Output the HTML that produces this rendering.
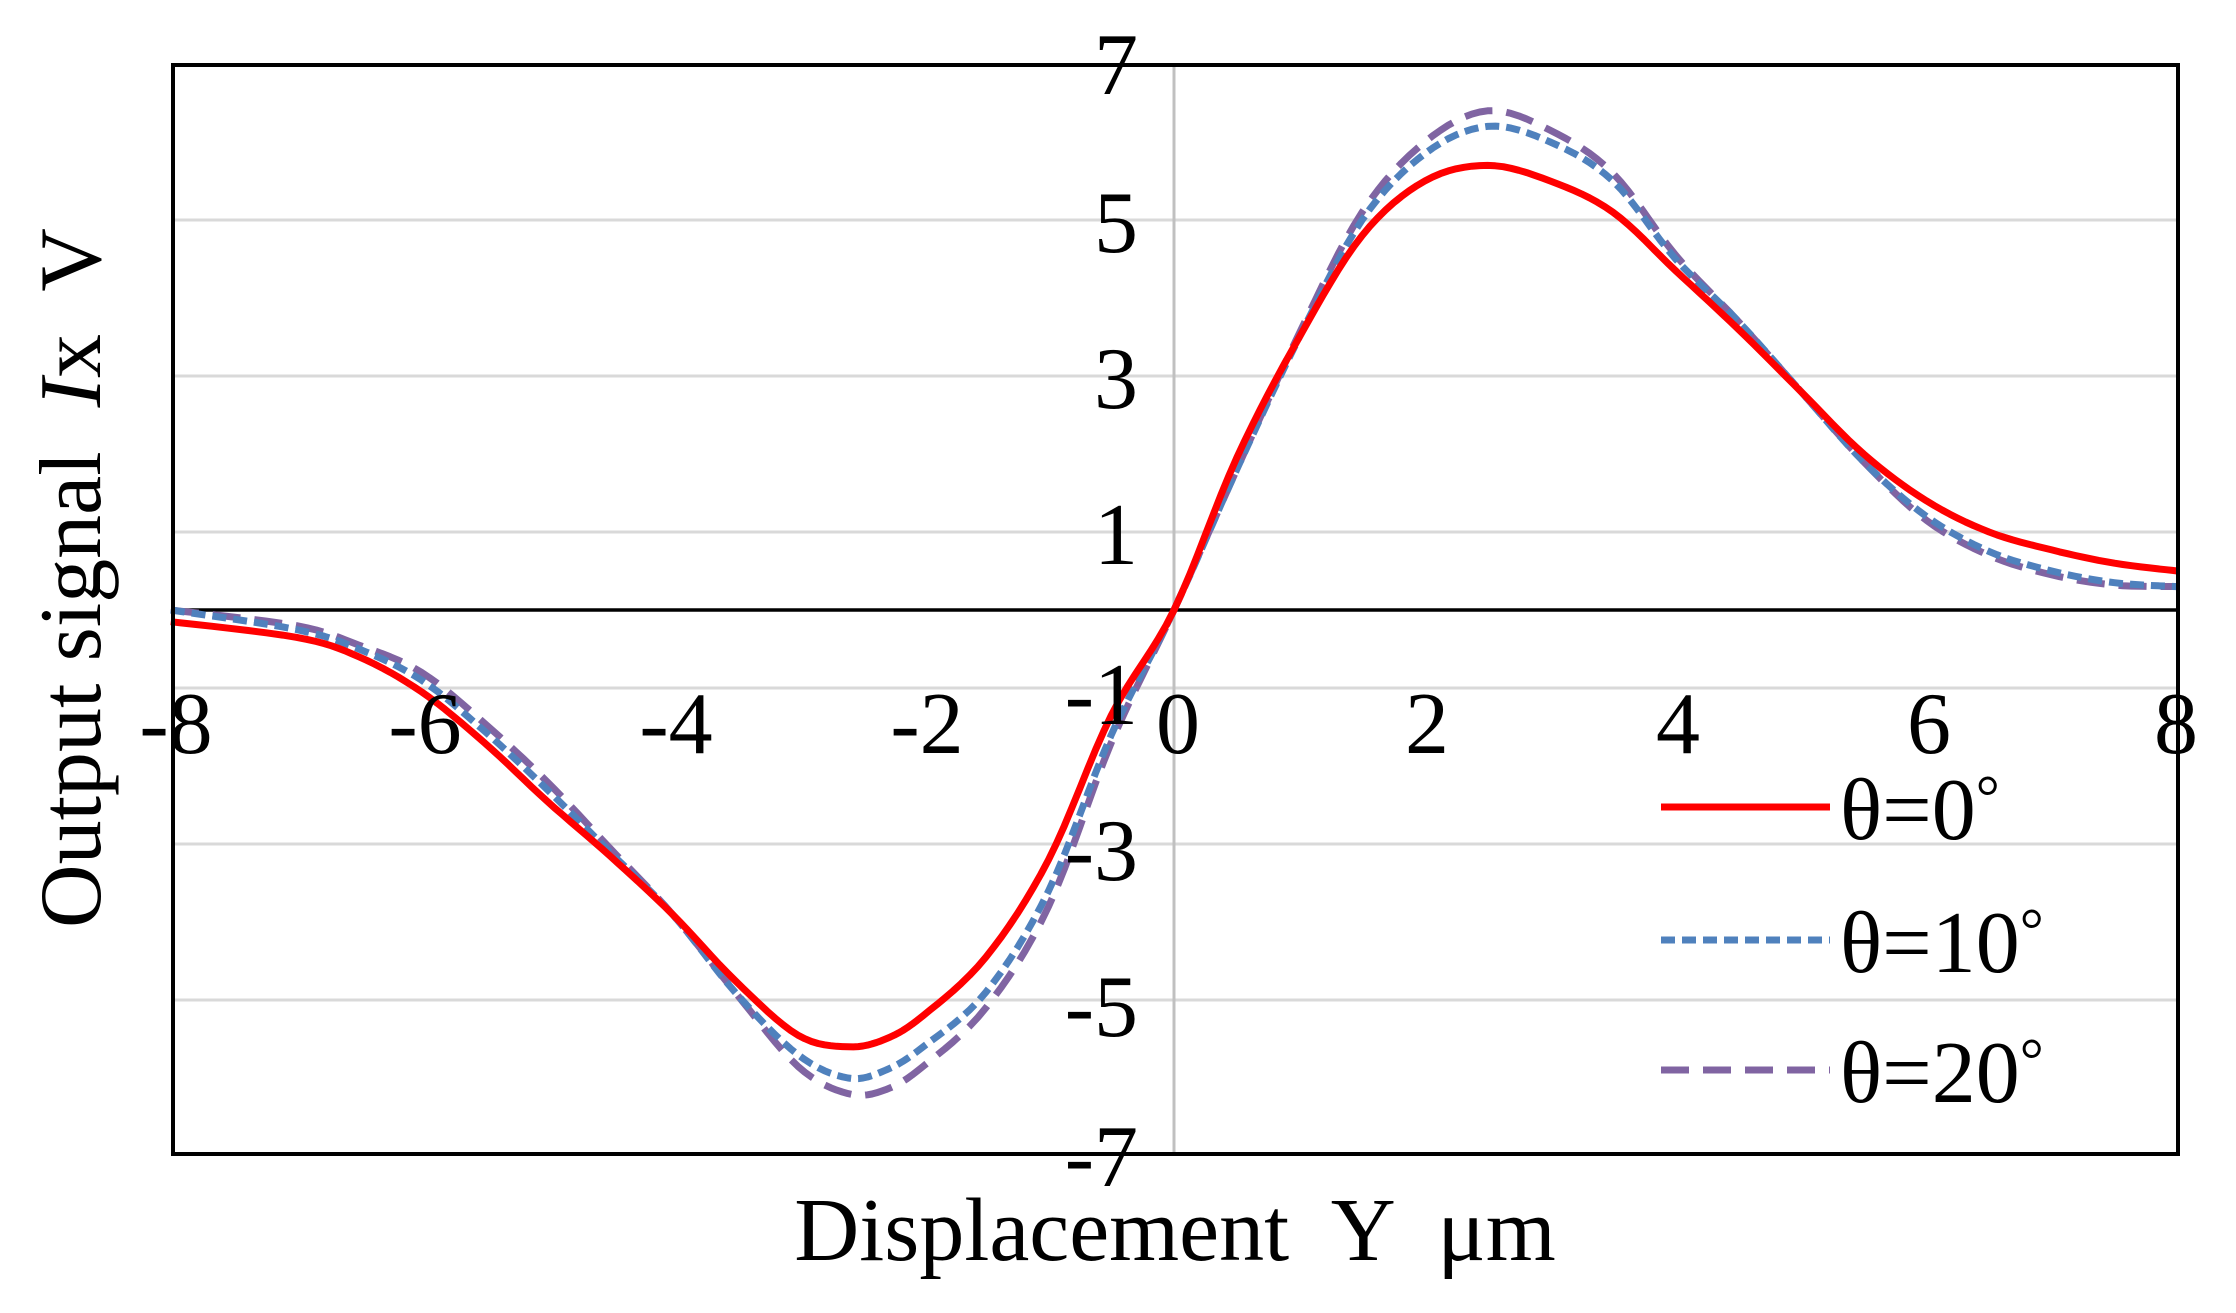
<!DOCTYPE html>
<html><head><meta charset="utf-8"><style>
html,body{margin:0;padding:0;background:#fff}
svg text{font-family:"Liberation Serif",serif;fill:#000}
</style></head><body>
<svg id="s" width="2236" height="1308" viewBox="0 0 2236 1308" xmlns="http://www.w3.org/2000/svg">
<rect width="2236" height="1308" fill="#fff"/>
<g stroke="#d9d9d9" stroke-width="3">
<line x1="172" x2="2179" y1="220" y2="220"/>
<line x1="172" x2="2179" y1="376" y2="376"/>
<line x1="172" x2="2179" y1="532" y2="532"/>
<line x1="172" x2="2179" y1="688" y2="688"/>
<line x1="172" x2="2179" y1="844" y2="844"/>
<line x1="172" x2="2179" y1="1000" y2="1000"/>
</g>
<line x1="1174" x2="1174" y1="64" y2="1155" stroke="#c0c0c0" stroke-width="3"/>
<line x1="172" x2="2179" y1="610" y2="610" stroke="#000" stroke-width="3.5"/>
<g id="curves" fill="none" stroke-linejoin="round"></g>
<rect x="173" y="65" width="2005" height="1089" fill="none" stroke="#000" stroke-width="4"/>
<g font-size="88" text-anchor="end">
<text x="1138" y="94">7</text>
<text x="1138" y="252">5</text>
<text x="1138" y="408">3</text>
<text x="1138" y="564">1</text>
<text x="1138" y="724">-1</text>
<text x="1138" y="880">-3</text>
<text x="1138" y="1036">-5</text>
<text x="1138" y="1186">-7</text>
</g>
<g font-size="88" text-anchor="middle">
<text x="176" y="753">-8</text>
<text x="425" y="753">-6</text>
<text x="676" y="753">-4</text>
<text x="927" y="753">-2</text>
<text x="1178" y="753">0</text>
<text x="1427" y="753">2</text>
<text x="1678" y="753">4</text>
<text x="1929" y="753">6</text>
<text x="2176" y="753">8</text>
</g>
<text x="1175" y="1260" font-size="90" text-anchor="middle" xml:space="preserve">Displacement  Y  μm</text>
<text transform="translate(100,578) rotate(-90)" font-size="88" text-anchor="middle" xml:space="preserve">Output signal  <tspan font-style="italic">I</tspan>x  V</text>
<line x1="1661" x2="1830" y1="807" y2="807" stroke="#ff0000" stroke-width="7"/>
<line x1="1661" x2="1830" y1="940" y2="940" stroke="#4f81bd" stroke-width="7" stroke-dasharray="14 7"/>
<line x1="1661" x2="1830" y1="1070" y2="1070" stroke="#8064a2" stroke-width="7" stroke-dasharray="28 14"/>
<g font-size="88">
<text x="1840" y="839">θ=0<tspan font-size="60" dy="-22">°</tspan></text>
<text x="1840" y="972">θ=10<tspan font-size="60" dy="-22">°</tspan></text>
<text x="1840" y="1102">θ=20<tspan font-size="60" dy="-22">°</tspan></text>
</g>
</svg>
<script>
var red=[[-8,-0.15],[-7,-0.35],[-6.5,-0.6],[-6,-1.05],[-5.5,-1.7],[-5,-2.45],[-4.5,-3.15],[-4,-3.9],[-3.5,-4.75],[-3,-5.45],[-2.6,-5.6],[-2.3,-5.5],[-2,-5.2],[-1.5,-4.45],[-1,-3.2],[-0.5,-1.35],[0,0],[0.5,1.95],[1,3.5],[1.5,4.8],[2,5.5],[2.5,5.7],[3,5.5],[3.5,5.1],[4,4.35],[4.5,3.6],[5,2.8],[5.5,2.0],[6,1.4],[6.5,1.0],[7,0.77],[7.5,0.6],[8,0.5]];
var blue=[[-8,0],[-7,-0.25],[-6.5,-0.5],[-6,-0.9],[-5.5,-1.55],[-5,-2.3],[-4.5,-3.1],[-4,-3.9],[-3.5,-4.9],[-3,-5.7],[-2.6,-6.0],[-2.3,-5.9],[-2,-5.6],[-1.5,-4.9],[-1,-3.6],[-0.5,-1.6],[0,0],[0.5,1.8],[1,3.5],[1.5,5.0],[2,5.85],[2.5,6.2],[3,6.0],[3.5,5.5],[4,4.5],[4.5,3.7],[5,2.8],[5.5,1.9],[6,1.2],[6.5,0.75],[7,0.5],[7.5,0.35],[8,0.3]];
var purp=[[-8,0],[-7,-0.2],[-6.5,-0.45],[-6,-0.8],[-5.5,-1.45],[-5,-2.2],[-4.5,-3.05],[-4,-3.9],[-3.5,-4.9],[-3,-5.85],[-2.6,-6.2],[-2.3,-6.15],[-2,-5.85],[-1.5,-5.1],[-1,-3.8],[-0.5,-1.7],[0,0],[0.5,1.8],[1,3.55],[1.5,5.1],[2,6.0],[2.5,6.4],[3,6.15],[3.5,5.6],[4,4.55],[4.5,3.7],[5,2.8],[5.5,1.9],[6,1.15],[6.5,0.7],[7,0.45],[7.5,0.32],[8,0.3]];
function px(x){return 1174+x*125.4} function py(v){return 610-v*78}
function path(d){var s='';for(var i=0;i<d.length-1;i++){var p0=d[Math.max(i-1,0)],p1=d[i],p2=d[i+1],p3=d[Math.min(i+2,d.length-1)];
for(var t=0;t<1;t+=0.125){var t2=t*t,t3=t2*t;function cr(a,b,c,e){return 0.5*(2*b+(-a+c)*t+(2*a-5*b+4*c-e)*t2+(-a+3*b-3*c+e)*t3)}
var x=cr(p0[0],p1[0],p2[0],p3[0]),y=cr(p0[1],p1[1],p2[1],p3[1]);s+=(s?'L':'M')+px(x).toFixed(1)+' '+py(y).toFixed(1);}}
var l=d[d.length-1];s+='L'+px(l[0])+' '+py(l[1]);return s;}
var g=document.getElementById('curves');
function add(d,c,da){var p=document.createElementNS('http://www.w3.org/2000/svg','path');p.setAttribute('d',path(d));p.setAttribute('stroke',c);p.setAttribute('stroke-width','7');if(da)p.setAttribute('stroke-dasharray',da);g.appendChild(p);}
add(purp,'#8064a2','28 14');add(blue,'#4f81bd','14 7');add(red,'#ff0000');
</script>
</body></html>
